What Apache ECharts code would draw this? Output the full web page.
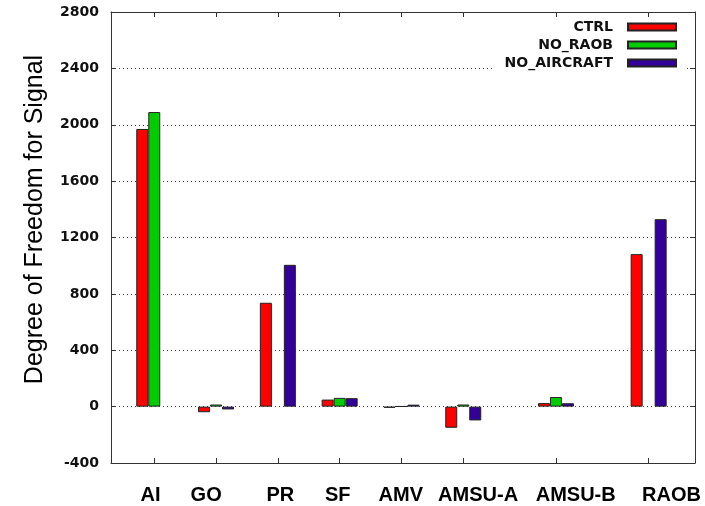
<!DOCTYPE html>
<html>
<head>
<meta charset="utf-8">
<script src="https://cdn.jsdelivr.net/npm/echarts@6/dist/echarts.min.js"></script>
<style>
  html, body { margin: 0; padding: 0; background: #fff; }
  #chart { width: 705px; height: 506px; }
</style>
</head>
<body>
<div id="chart"></div>
<script>
// Observation types and where each group sits on the x axis
const categories = ['AI', 'GO', 'PR', 'SF', 'AMV', 'AMSU-A', 'AMSU-B', 'RAOB'];
const categoryPos = [1, 2, 3, 4, 5, 6, 7.5, 9];
// Where each category name is printed along the x axis
const labelPos = [0.94, 1.84, 3.04, 3.97, 4.99, 6.24, 7.82, 9.37];

// Degree of freedom for signal per experiment
const ctrl       = [1970, -40, 737, 50, -8, -150, 25, 1082];
const noRaob     = [2090, 15, null, 62, 2, 15, 68, null];
const noAircraft = [null, -20, 1006, 60, 14, -98, 24, 1330];

const yTicks = [-400, 0, 400, 800, 1200, 1600, 2000, 2400, 2800];

const frameColor = '#333';
const tickFont = 'DejaVu Sans';

function pairs(values) {
  return values.map((v, i) => [categoryPos[i], v]);
}

function barSeries(name, values, color) {
  return {
    name: name,
    type: 'bar',
    data: pairs(values),
    barWidth: 12,
    barGap: '0%',
    itemStyle: { color: color, borderColor: '#222', borderWidth: 1 }
  };
}

const xCommon = {
  type: 'value',
  min: 0.3,
  max: 9.75,
  axisLine: { show: true, onZero: false, lineStyle: { color: frameColor, width: 1 } },
  axisTick: { show: true, inside: true, length: 5, customValues: categoryPos,
              lineStyle: { color: frameColor } },
  splitLine: { show: false }
};

const yCommon = {
  type: 'value',
  min: yTicks[0],
  max: yTicks[yTicks.length - 1],
  interval: 400,
  axisLine: { show: true, onZero: false, lineStyle: { color: frameColor, width: 1 } },
  axisTick: { show: true, inside: true, length: 5, lineStyle: { color: frameColor } }
};

const option = {
  animation: false,
  backgroundColor: '#fff',
  grid: { left: 111, right: 10, top: 12, bottom: 43, containLabel: false },
  legend: {
    orient: 'vertical',
    right: 20,
    top: 17,
    align: 'right',
    itemWidth: 48,
    itemHeight: 7,
    itemGap: 2,
    padding: [2, 8, 2, 12],
    backgroundColor: '#fff',
    icon: 'rect',
    textStyle: {
      fontFamily: tickFont, fontWeight: 'bold', fontSize: 14, color: '#111',
      lineHeight: 16, padding: [0, 10, 0, 0]
    },
    data: ['CTRL', 'NO_RAOB', 'NO_AIRCRAFT']
  },
  xAxis: [
    Object.assign({}, xCommon, {
      position: 'bottom',
      axisLabel: {
        show: true,
        customValues: labelPos,
        margin: 22,
        fontFamily: 'Liberation Sans',
        fontWeight: 'bold',
        fontSize: 20,
        color: '#000',
        formatter: function (v) {
          let best = 0;
          labelPos.forEach((p, i) => { if (Math.abs(p - v) < Math.abs(labelPos[best] - v)) best = i; });
          return categories[best];
        }
      }
    }),
    Object.assign({}, xCommon, { position: 'top', axisLabel: { show: false } })
  ],
  yAxis: [
    Object.assign({}, yCommon, {
      position: 'left',
      name: 'Degree of Freedom for Signal',
      nameLocation: 'middle',
      nameGap: 63,
      nameTextStyle: { fontFamily: 'Liberation Sans', fontSize: 25, color: '#000', padding: [0, 0, 0, 36] },
      axisLabel: {
        show: true, margin: 12, fontFamily: tickFont, fontWeight: 'bold', fontSize: 14, color: '#111',
        formatter: function (v) { return String(v); }
      },
      splitLine: { show: true, lineStyle: { color: '#444', width: 1, type: [1, 3] } }
    }),
    Object.assign({}, yCommon, {
      position: 'right',
      axisLabel: { show: false },
      splitLine: { show: false }
    })
  ],
  series: [
    barSeries('CTRL', ctrl, '#ff0000'),
    barSeries('NO_RAOB', noRaob, '#00cc00'),
    barSeries('NO_AIRCRAFT', noAircraft, '#330099')
  ]
};

const chart = echarts.init(document.getElementById('chart'), null, { renderer: 'canvas' });
chart.setOption(option);
</script>
</body>
</html>
